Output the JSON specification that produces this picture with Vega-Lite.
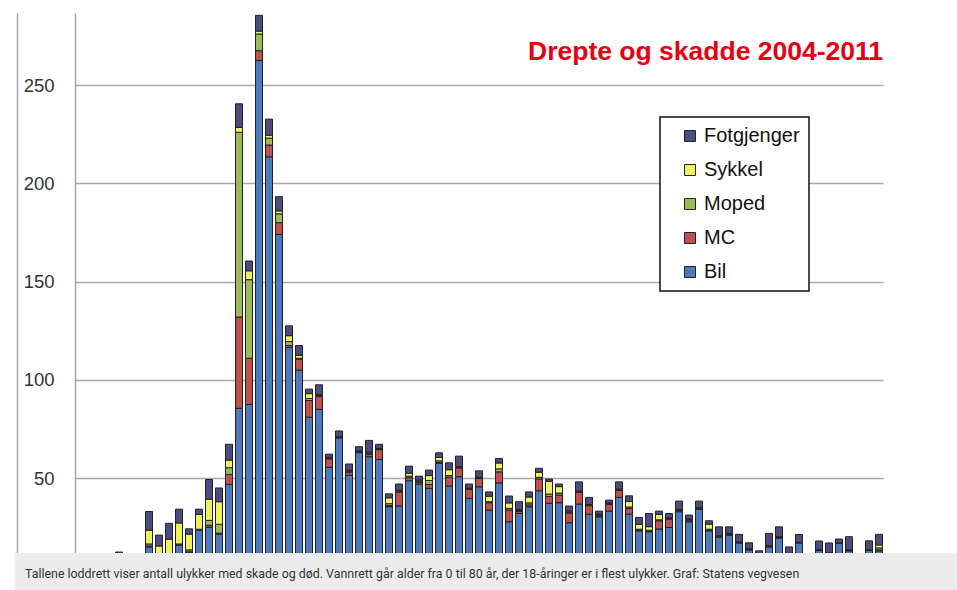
{
  "$schema": "https://vega.github.io/schema/vega-lite/v6.json",
  "padding": {"left": 15, "top": 13, "right": 0, "bottom": 0},
  "spacing": 0,
  "config": {"view": {"stroke": null}, "font": "Liberation Sans", "background": "#ffffff"},
  "datasets": {
    "ulykker": [
      {"age": 0, "Bil": 2, "MC": 0, "Moped": 0, "Sykkel": 0, "Fotgjenger": 2},
      {"age": 1, "Bil": 3, "MC": 0, "Moped": 0, "Sykkel": 0.5, "Fotgjenger": 2.5},
      {"age": 2, "Bil": 4, "MC": 0, "Moped": 0, "Sykkel": 1, "Fotgjenger": 3},
      {"age": 3, "Bil": 5, "MC": 0, "Moped": 0, "Sykkel": 1.5, "Fotgjenger": 3.5},
      {"age": 4, "Bil": 6, "MC": 0, "Moped": 0, "Sykkel": 2, "Fotgjenger": 4.4},
      {"age": 5, "Bil": 5, "MC": 0, "Moped": 0, "Sykkel": 2, "Fotgjenger": 3.5},
      {"age": 6, "Bil": 5, "MC": 0, "Moped": 0, "Sykkel": 3, "Fotgjenger": 3.5},
      {"age": 7, "Bil": 15, "MC": 0.5, "Moped": 1, "Sykkel": 7, "Fotgjenger": 9.5},
      {"age": 8, "Bil": 11, "MC": 0, "Moped": 0.5, "Sykkel": 4, "Fotgjenger": 5.5},
      {"age": 9, "Bil": 10, "MC": 0, "Moped": 0.5, "Sykkel": 8.5, "Fotgjenger": 8},
      {"age": 10, "Bil": 16, "MC": 0, "Moped": 0.5, "Sykkel": 10.7, "Fotgjenger": 7},
      {"age": 11, "Bil": 12.5, "MC": 0, "Moped": 1, "Sykkel": 8, "Fotgjenger": 2.7},
      {"age": 12, "Bil": 23.5, "MC": 0, "Moped": 0.5, "Sykkel": 7.5, "Fotgjenger": 2.7},
      {"age": 13, "Bil": 25, "MC": 1, "Moped": 2.5, "Sykkel": 10.8, "Fotgjenger": 10},
      {"age": 14, "Bil": 21.5, "MC": 0.5, "Moped": 4.5, "Sykkel": 11.5, "Fotgjenger": 7},
      {"age": 15, "Bil": 46.8, "MC": 5.1, "Moped": 3.4, "Sykkel": 3.9, "Fotgjenger": 8},
      {"age": 16, "Bil": 85.5, "MC": 46.5, "Moped": 94, "Sykkel": 2.5, "Fotgjenger": 12},
      {"age": 17, "Bil": 87.5, "MC": 23.5, "Moped": 40, "Sykkel": 4.5, "Fotgjenger": 5},
      {"age": 18, "Bil": 262.5, "MC": 5, "Moped": 8.5, "Sykkel": 1.5, "Fotgjenger": 8},
      {"age": 19, "Bil": 213.5, "MC": 6, "Moped": 3.5, "Sykkel": 1.5, "Fotgjenger": 8.2},
      {"age": 20, "Bil": 174, "MC": 6, "Moped": 4.5, "Sykkel": 1.5, "Fotgjenger": 7.2},
      {"age": 21, "Bil": 116.5, "MC": 1, "Moped": 2, "Sykkel": 3, "Fotgjenger": 5},
      {"age": 22, "Bil": 105, "MC": 5.5, "Moped": 0.5, "Sykkel": 1.5, "Fotgjenger": 5},
      {"age": 23, "Bil": 81, "MC": 8.5, "Moped": 1, "Sykkel": 2.5, "Fotgjenger": 2.3},
      {"age": 24, "Bil": 85, "MC": 6.5, "Moped": 0.5, "Sykkel": 0.5, "Fotgjenger": 5},
      {"age": 25, "Bil": 55.5, "MC": 4.3, "Moped": 0.5, "Sykkel": 0.2, "Fotgjenger": 1.7},
      {"age": 26, "Bil": 70.5, "MC": 0.5, "Moped": 0, "Sykkel": 0, "Fotgjenger": 3},
      {"age": 27, "Bil": 51.5, "MC": 1.5, "Moped": 0.5, "Sykkel": 0.5, "Fotgjenger": 3.2},
      {"age": 28, "Bil": 63, "MC": 0.5, "Moped": 0, "Sykkel": 0.3, "Fotgjenger": 2.2},
      {"age": 29, "Bil": 60.9, "MC": 1.3, "Moped": 0.5, "Sykkel": 0.5, "Fotgjenger": 6},
      {"age": 30, "Bil": 59.5, "MC": 5, "Moped": 0.3, "Sykkel": 0.3, "Fotgjenger": 2.1},
      {"age": 31, "Bil": 35.5, "MC": 0.5, "Moped": 1, "Sykkel": 3, "Fotgjenger": 2},
      {"age": 32, "Bil": 35.8, "MC": 7, "Moped": 0.5, "Sykkel": 0.5, "Fotgjenger": 3.2},
      {"age": 33, "Bil": 48.7, "MC": 1.5, "Moped": 0.8, "Sykkel": 1.5, "Fotgjenger": 3.6},
      {"age": 34, "Bil": 47, "MC": 1, "Moped": 0.5, "Sykkel": 0.5, "Fotgjenger": 2},
      {"age": 35, "Bil": 44.8, "MC": 2, "Moped": 2, "Sykkel": 2.5, "Fotgjenger": 2.8},
      {"age": 36, "Bil": 57.5, "MC": 0.5, "Moped": 0.8, "Sykkel": 1.7, "Fotgjenger": 2.4},
      {"age": 37, "Bil": 46, "MC": 4.5, "Moped": 0.8, "Sykkel": 3, "Fotgjenger": 3.5},
      {"age": 38, "Bil": 50.7, "MC": 4.5, "Moped": 0.3, "Sykkel": 0.3, "Fotgjenger": 5.4},
      {"age": 39, "Bil": 39.7, "MC": 4.6, "Moped": 0.3, "Sykkel": 0.3, "Fotgjenger": 2.1},
      {"age": 40, "Bil": 45.6, "MC": 4.2, "Moped": 0.3, "Sykkel": 0.3, "Fotgjenger": 3.3},
      {"age": 41, "Bil": 33.7, "MC": 3.8, "Moped": 0.5, "Sykkel": 2.8, "Fotgjenger": 2.2},
      {"age": 42, "Bil": 47.6, "MC": 5.6, "Moped": 1.5, "Sykkel": 3, "Fotgjenger": 2.3},
      {"age": 43, "Bil": 27.8, "MC": 6, "Moped": 0.8, "Sykkel": 2.8, "Fotgjenger": 3.5},
      {"age": 44, "Bil": 32, "MC": 1, "Moped": 0.5, "Sykkel": 0.5, "Fotgjenger": 4},
      {"age": 45, "Bil": 35.4, "MC": 1, "Moped": 1, "Sykkel": 3, "Fotgjenger": 2.6},
      {"age": 46, "Bil": 43.6, "MC": 6, "Moped": 0.8, "Sykkel": 2.6, "Fotgjenger": 2},
      {"age": 47, "Bil": 37.2, "MC": 3.5, "Moped": 1.2, "Sykkel": 6.5, "Fotgjenger": 1.1},
      {"age": 48, "Bil": 37.5, "MC": 3.9, "Moped": 1, "Sykkel": 3.3, "Fotgjenger": 1.3},
      {"age": 49, "Bil": 27.3, "MC": 5, "Moped": 0.5, "Sykkel": 0.5, "Fotgjenger": 2.5},
      {"age": 50, "Bil": 36.8, "MC": 6, "Moped": 0.3, "Sykkel": 0.3, "Fotgjenger": 4.7},
      {"age": 51, "Bil": 31.6, "MC": 4.4, "Moped": 0.3, "Sykkel": 0.3, "Fotgjenger": 3.6},
      {"age": 52, "Bil": 30.3, "MC": 0.5, "Moped": 0.5, "Sykkel": 0.3, "Fotgjenger": 1.6},
      {"age": 53, "Bil": 33.2, "MC": 3.5, "Moped": 0.3, "Sykkel": 0.3, "Fotgjenger": 1.5},
      {"age": 54, "Bil": 40.2, "MC": 3.5, "Moped": 0.4, "Sykkel": 0.3, "Fotgjenger": 3.7},
      {"age": 55, "Bil": 31.7, "MC": 2.8, "Moped": 0.8, "Sykkel": 2.8, "Fotgjenger": 2.9},
      {"age": 56, "Bil": 23.2, "MC": 0.3, "Moped": 0.5, "Sykkel": 2.5, "Fotgjenger": 3.5},
      {"age": 57, "Bil": 22.7, "MC": 0.3, "Moped": 0.5, "Sykkel": 1.8, "Fotgjenger": 6.7},
      {"age": 58, "Bil": 24.1, "MC": 4.2, "Moped": 0.5, "Sykkel": 2.7, "Fotgjenger": 1.7},
      {"age": 59, "Bil": 24.9, "MC": 4.3, "Moped": 0.3, "Sykkel": 0.3, "Fotgjenger": 2.2},
      {"age": 60, "Bil": 32.9, "MC": 0.5, "Moped": 0.3, "Sykkel": 0.3, "Fotgjenger": 4.3},
      {"age": 61, "Bil": 27.8, "MC": 0.8, "Moped": 0.3, "Sykkel": 0.3, "Fotgjenger": 2},
      {"age": 62, "Bil": 34.2, "MC": 0.3, "Moped": 0.2, "Sykkel": 0.2, "Fotgjenger": 3.4},
      {"age": 63, "Bil": 23.2, "MC": 0.3, "Moped": 0.5, "Sykkel": 2.6, "Fotgjenger": 1.7},
      {"age": 64, "Bil": 20, "MC": 0.3, "Moped": 0.2, "Sykkel": 0.2, "Fotgjenger": 4.5},
      {"age": 65, "Bil": 21, "MC": 0.5, "Moped": 0.2, "Sykkel": 0.2, "Fotgjenger": 3.3},
      {"age": 66, "Bil": 17, "MC": 0.3, "Moped": 0.2, "Sykkel": 0.1, "Fotgjenger": 3.8},
      {"age": 67, "Bil": 13.5, "MC": 0.3, "Moped": 0.2, "Sykkel": 0, "Fotgjenger": 3.1},
      {"age": 68, "Bil": 10, "MC": 0, "Moped": 0, "Sykkel": 0, "Fotgjenger": 3},
      {"age": 69, "Bil": 15, "MC": 0.5, "Moped": 0.2, "Sykkel": 0, "Fotgjenger": 6.2},
      {"age": 70, "Bil": 19.5, "MC": 0.5, "Moped": 0.2, "Sykkel": 0, "Fotgjenger": 5},
      {"age": 71, "Bil": 10, "MC": 0, "Moped": 0, "Sykkel": 0, "Fotgjenger": 5},
      {"age": 72, "Bil": 17, "MC": 0.3, "Moped": 0, "Sykkel": 0, "Fotgjenger": 4},
      {"age": 73, "Bil": 6, "MC": 0, "Moped": 0, "Sykkel": 0, "Fotgjenger": 3},
      {"age": 74, "Bil": 13.5, "MC": 0, "Moped": 0, "Sykkel": 0, "Fotgjenger": 4.5},
      {"age": 75, "Bil": 12, "MC": 0, "Moped": 0, "Sykkel": 0, "Fotgjenger": 5},
      {"age": 76, "Bil": 17, "MC": 0, "Moped": 0, "Sykkel": 0, "Fotgjenger": 2},
      {"age": 77, "Bil": 13, "MC": 0.5, "Moped": 0, "Sykkel": 0, "Fotgjenger": 6.7},
      {"age": 78, "Bil": 6, "MC": 0, "Moped": 0, "Sykkel": 0, "Fotgjenger": 3},
      {"age": 79, "Bil": 13.5, "MC": 0, "Moped": 0, "Sykkel": 0, "Fotgjenger": 4.6},
      {"age": 80, "Bil": 13, "MC": 0.5, "Moped": 1, "Sykkel": 1.5, "Fotgjenger": 5.4}
    ]
  },
  "vconcat": [
    {
      "spacing": 0,
      "hconcat": [
        {"width": 2, "height": 540, "data": {"values": []}, "mark": "point"},
        {
          "width": 808,
          "height": 540,
          "data": {"name": "ulykker"},
          "transform": [
            {"fold": ["Bil", "MC", "Moped", "Sykkel", "Fotgjenger"], "as": ["type", "count"]},
            {"stack": "count", "groupby": ["age"], "sort": [], "as": ["y0", "y1"]}
          ],
          "title": {
            "text": "Drepte og skadde 2004-2011",
            "orient": "top",
            "anchor": "end",
            "frame": "group",
            "offset": -52,
            "color": "#e60012",
            "font": "Liberation Sans",
            "fontSize": 26.5,
            "fontWeight": "bold"
          },
          "layer": [
            {
              "mark": {"type": "bar", "stroke": "#222222", "strokeWidth": 1, "clip": true},
              "encoding": {
                "x": {"field": "age", "type": "ordinal", "axis": null, "scale": {"paddingInner": 0.3, "paddingOuter": 0.05}},
                "y": {
                  "field": "y1",
                  "type": "quantitative",
                  "scale": {"domain": [11.9, 286.7], "nice": false, "zero": false},
                  "axis": {
                    "values": [50, 100, 150, 200, 250],
                    "title": null,
                    "grid": true,
                    "gridColor": "#a8a8a8",
                    "gridWidth": 1.5,
                    "domainColor": "#a8a8a8",
                    "domainWidth": 1.5,
                    "ticks": false,
                    "tickSize": 0,
                    "labelPadding": 21,
                    "labelFontSize": 18.5,
                    "labelColor": "#333333",
                    "labelFont": "Liberation Sans"
                  }
                },
                "y2": {"field": "y0"},
                "color": {
                  "field": "type",
                  "type": "nominal",
                  "scale": {
                    "domain": ["Fotgjenger", "Sykkel", "Moped", "MC", "Bil"],
                    "range": ["#4d4c7e", "#f0f05c", "#9bbb59", "#c0504d", "#4e79ba"]
                  },
                  "legend": {
                    "title": null,
                    "orient": "none",
                    "legendX": 645,
                    "legendY": 104,
                    "values": ["Fotgjenger", "Sykkel", "Moped", "MC", "Bil"],
                    "fillColor": "#ffffff",
                    "strokeColor": "#111111",
                    "padding": 9,
                    "symbolType": "square",
                    "symbolSize": 121,
                    "symbolStrokeColor": "#222222",
                    "symbolStrokeWidth": 1,
                    "symbolOffset": 11,
                    "labelFontSize": 20,
                    "labelFont": "Liberation Sans",
                    "labelColor": "#111111",
                    "labelOffset": 4,
                    "rowPadding": 14,
                    "encode": {"legend": {"update": {"strokeWidth": {"value": 1.5}}}}
                  }
                }
              }
            },
            {
              "mark": {"type": "point", "opacity": 0, "clip": true},
              "encoding": {
                "x": {"field": "age", "type": "ordinal", "axis": null},
                "y": {
                  "field": "y1",
                  "type": "quantitative",
                  "axis": {
                    "orient": "left",
                    "offset": 58,
                    "labels": false,
                    "ticks": false,
                    "grid": false,
                    "title": null,
                    "domainColor": "#a8a8a8",
                    "domainWidth": 1.5
                  }
                }
              }
            }
          ],
          "resolve": {"axis": {"y": "independent"}}
        }
      ]
    },
    {
      "width": 942,
      "height": 37,
      "data": {"values": []},
      "mark": "point",
      "view": {"fill": "#ececec", "stroke": null},
      "title": {
        "text": "Tallene loddrett viser antall ulykker med skade og død. Vannrett går alder fra 0 til 80 år, der 18-åringer er i flest ulykker. Graf: Statens vegvesen",
        "orient": "bottom",
        "anchor": "start",
        "frame": "group",
        "offset": -22,
        "dx": 10,
        "font": "Roboto",
        "fontSize": 12.4,
        "fontWeight": "normal",
        "color": "#333333"
      }
    }
  ]
}
